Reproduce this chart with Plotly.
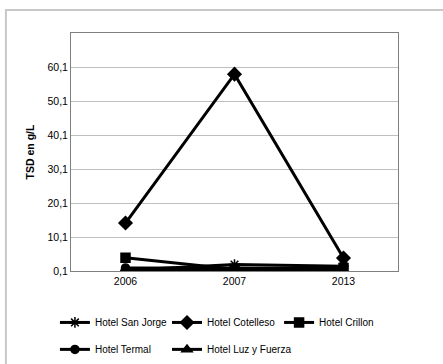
import plotly.graph_objects as go

years = ['2006', '2007', '2013']
san_jorge = [0.3, 2.0, 1.5]
cotelleso = [14.2, 58.0, 3.9]
crillon = [4.0, 0.6, 1.0]
termal = [1.0, 1.0, 0.9]
luz_fuerza = [0.3, 0.3, 0.4]

series = [
    ('Hotel San Jorge', san_jorge, 'asterisk-open', 9),
    ('Hotel Cotelleso', cotelleso, 'diamond', 10),
    ('Hotel Crillon', crillon, 'square', 9),
    ('Hotel Termal', termal, 'circle', 8),
    ('Hotel Luz y Fuerza', luz_fuerza, 'triangle-up', 9),
]
# legend slot of each entry, Excel style grid: 3 columns x 2 rows
leg_pos = [(0.124, 0.154), (0.377, 0.154), (0.630, 0.154),
           (0.124, 0.080), (0.377, 0.080)]

fig = go.Figure()
legends = {}
for i, (name, vals, sym, sz) in enumerate(series):
    lg = 'legend' if i == 0 else 'legend%d' % (i + 1)
    fig.add_trace(go.Scatter(
        x=years, y=vals, name=name, mode='lines+markers', legend=lg,
        line=dict(color='black', width=3),
        marker=dict(symbol=sym, size=sz, color='black',
                    line=dict(color='black', width=1.5)),
    ))
    legends[lg] = dict(orientation='h', xanchor='left', yanchor='top',
                       xref='container', yref='container',
                       x=leg_pos[i][0], y=leg_pos[i][1],
                       itemwidth=30, font=dict(size=10), bgcolor='rgba(0,0,0,0)')

yticks = [0.1, 10.1, 20.1, 30.1, 40.1, 50.1, 60.1]

fig.update_layout(
    width=443, height=364,
    margin=dict(l=71, r=45, t=33, b=93),
    paper_bgcolor='white', plot_bgcolor='white',
    font=dict(family='Liberation Sans, Arial', size=10.5, color='black'),
    showlegend=True,
    xaxis=dict(type='category', showline=True, mirror=True, linecolor='#7f7f7f',
               linewidth=1, showgrid=False, ticks='', range=[-0.5, 2.5]),
    yaxis=dict(range=[0.1, 70.1], tickvals=yticks,
               ticktext=[str(v).replace('.', ',') for v in yticks],
               showline=True, mirror=True, linecolor='#7f7f7f', linewidth=1,
               gridcolor='#bfbfbf', gridwidth=1, zeroline=False, ticks='',
               title=dict(text='<b>TSD en g/L</b>', font=dict(size=10.5), standoff=10)),
    shapes=[dict(type='rect', xref='paper', yref='paper',
                 x0=-0.199, x1=1.15, y0=-0.41, y1=1.0966,
                 line=dict(color='#c8c8c8', width=2))],
)
fig.update_layout(**legends)

fig.write_html('out.html', config={'displayModeBar': False},
               post_script="document.body.style.margin='0';")
